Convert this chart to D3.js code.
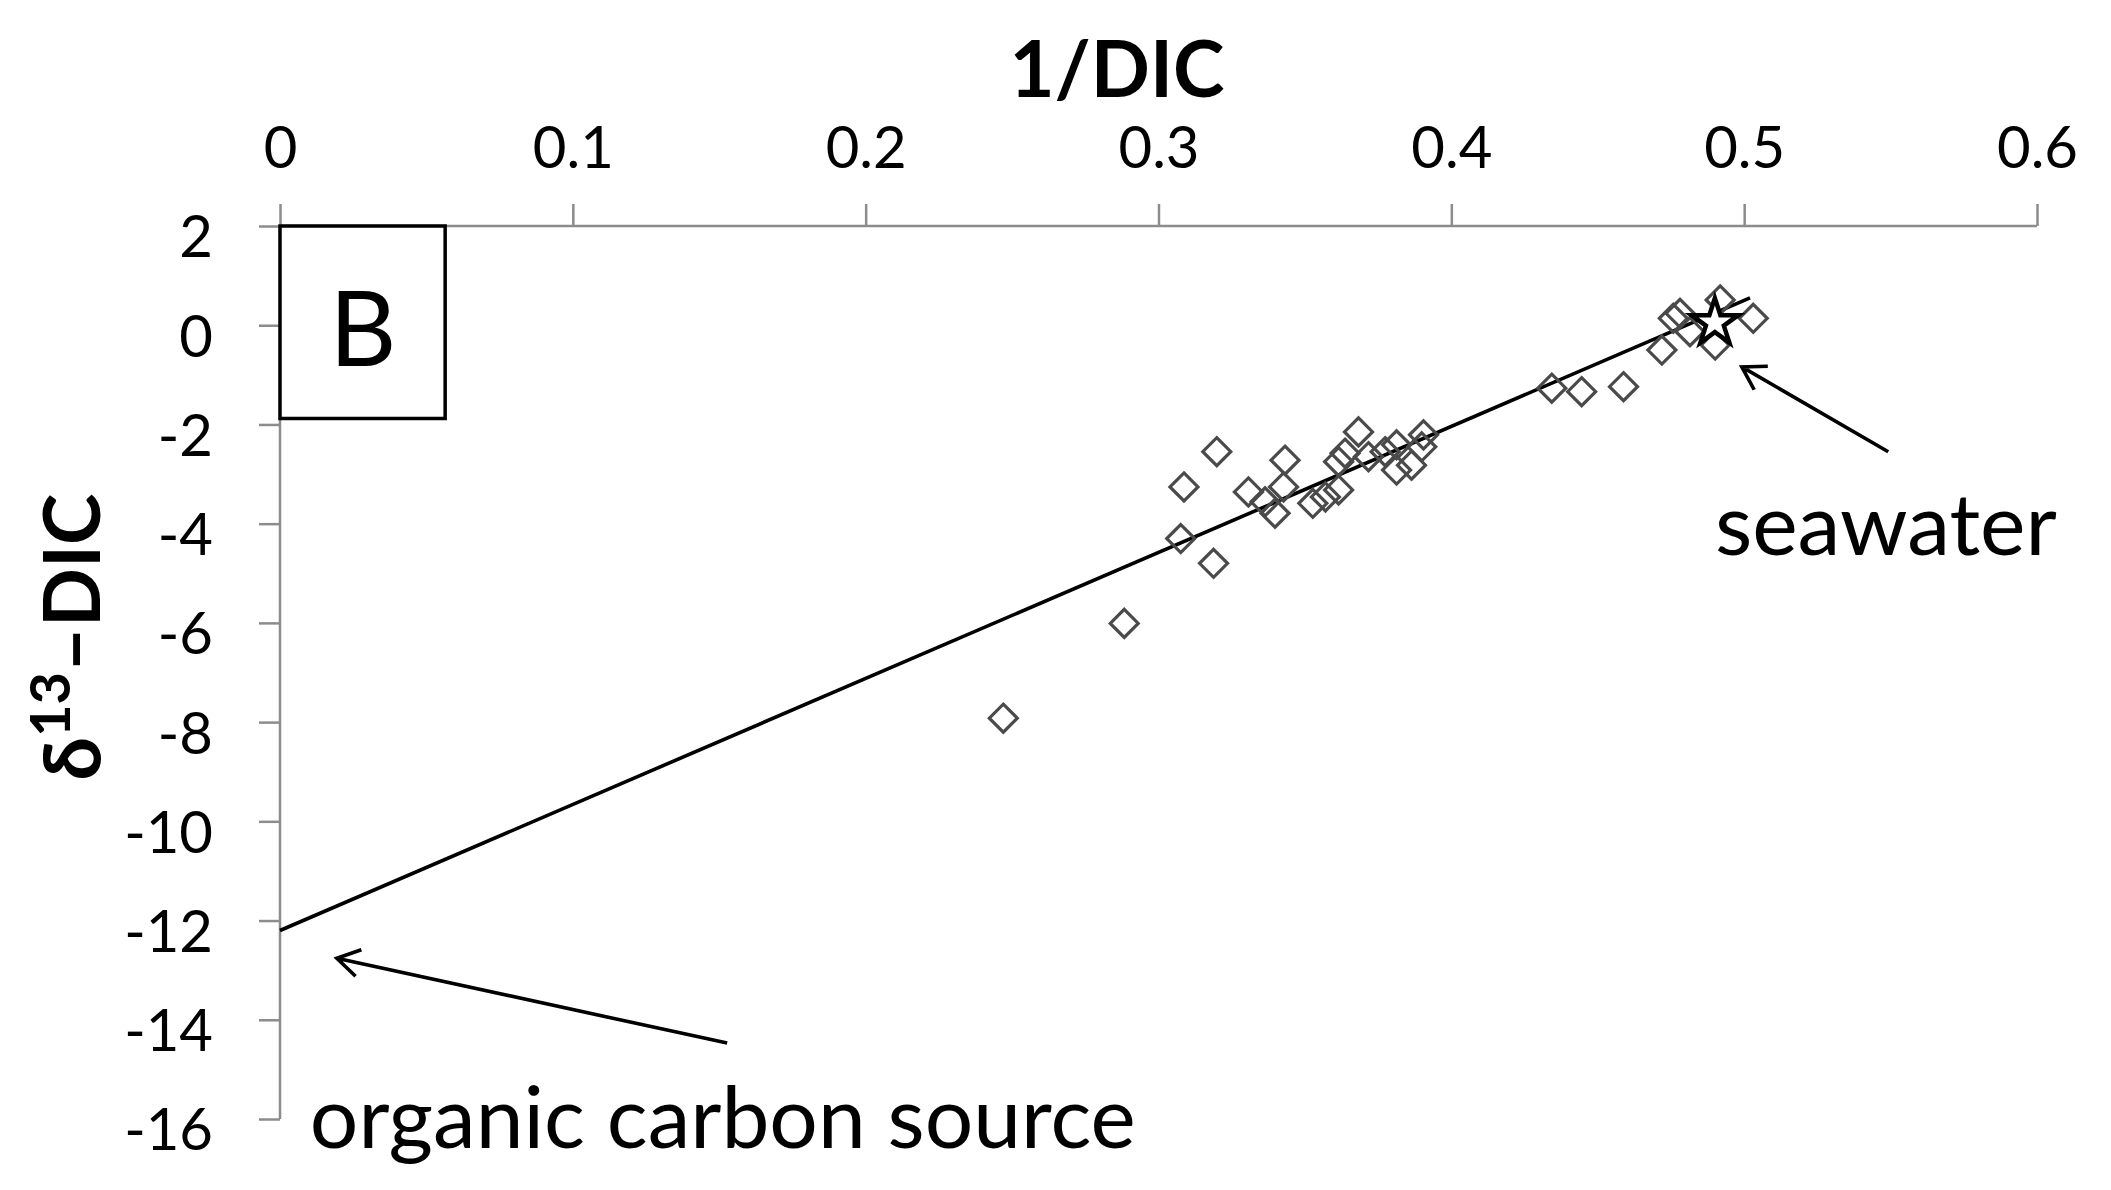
<!DOCTYPE html>
<html><head><meta charset="utf-8">
<script src="https://cdn.jsdelivr.net/npm/d3@7"></script>
<style>html,body{margin:0;padding:0;background:#fff;}svg{display:block;}</style>
</head><body>
<svg id="chart" width="2111" height="1190"></svg>
<script>
// ---- data ----
const xTicks = [0, 0.1, 0.2, 0.3, 0.4, 0.5, 0.6];
const xTickLabels = ["0", "0.1", "0.2", "0.3", "0.4", "0.5", "0.6"];
const yTicks = [2, 0, -2, -4, -6, -8, -10, -12, -14, -16];
const yTickLabels = ["2", "0", "-2", "-4", "-6", "-8", "-10", "-12", "-14", "-16"];
const invDIC = [0.2470, 0.2883, 0.3076, 0.3087, 0.3188, 0.3199, 0.3307, 0.3364, 0.3398, 0.3427,
                0.3432, 0.3527, 0.3570, 0.3615, 0.3615, 0.3637, 0.3683, 0.3717, 0.3774, 0.3813,
                0.3813, 0.3864, 0.3899, 0.3905, 0.4343, 0.4445, 0.4588, 0.4719, 0.4758, 0.4781,
                0.4815, 0.4901, 0.4918, 0.5031];
const d13DIC = [-7.92, -6.01, -4.30, -3.26, -4.80, -2.55, -3.36, -3.56, -3.79, -3.26,
                -2.72, -3.59, -3.46, -3.32, -2.75, -2.58, -2.15, -2.65, -2.55, -2.41,
                -2.92, -2.82, -2.45, -2.21, -1.27, -1.34, -1.24, -0.50, 0.14, 0.24,
                -0.13, -0.40, 0.51, 0.14];
const seawater = [0.490, 0.05];
const fitIntercept = -12.2;
const fitSlope = 25.4;
const fitRange = [0, 0.502];

const svg = d3.select("#chart");
const FONT = "Lato, 'Open Sans', sans-serif";
const x = d3.scaleLinear().domain([0, 0.6]).range([280, 2037]);
const y = d3.scaleLinear().domain([-16, 2]).range([1119, 226]);

function fitWidth(sel, target) {
  const w = sel.node().getComputedTextLength();
  const fs = parseFloat(sel.attr("font-size"));
  sel.attr("font-size", fs * target / w);
}

// x axis (top)
const xAxis = svg.append("g").attr("transform", `translate(0,${y(2)})`)
  .call(d3.axisTop(x).tickValues(xTicks).tickSize(22).tickPadding(36)
        .tickFormat((d, i) => xTickLabels[i]));
xAxis.selectAll("path,line").attr("stroke", "#8c8c8c").attr("stroke-width", 2.5);
xAxis.select(".domain").attr("d", `M${x(0)},0H${x(0.6)}`);
xAxis.selectAll("text").attr("font-family", FONT).attr("font-size", 58).attr("fill", "#000");

// y axis (left)
const yAxis = svg.append("g").attr("transform", `translate(${x(0)},0)`)
  .call(d3.axisLeft(y).tickValues(yTicks).tickSize(21).tickPadding(46)
        .tickFormat((d, i) => yTickLabels[i]));
yAxis.selectAll("path,line").attr("stroke", "#8c8c8c").attr("stroke-width", 2.5);
yAxis.select(".domain").attr("d", `M0,${y(2)}V${y(-16)}`);
yAxis.selectAll("text").attr("font-family", FONT).attr("font-size", 58).attr("fill", "#000")
  .attr("y", 10).attr("dy", "0.36em");

// axis titles
const xt = svg.append("text").attr("x", 1117).attr("y", 97).attr("text-anchor", "middle")
  .attr("font-family", FONT).attr("font-weight", "bold").attr("font-size", 84).text("1/DIC");
fitWidth(xt, 215);

const yt = svg.append("text").attr("transform", "translate(100,637) rotate(-90)")
  .attr("text-anchor", "middle").attr("font-family", FONT).attr("font-weight", "bold")
  .attr("font-size", 84);
yt.append("tspan").text("δ");
yt.append("tspan").attr("font-size", 56).attr("dy", -30).text("13");
yt.append("tspan").attr("dy", 30).text("–DIC");
fitWidth(yt, 282);

// B box
svg.append("rect").attr("x", x(0)).attr("y", y(2))
  .attr("width", x(0.0564) - x(0)).attr("height", y(-1.88) - y(2))
  .attr("fill", "#fff").attr("stroke", "#000").attr("stroke-width", 3.5);
svg.append("text").attr("x", x(0.0283)).attr("y", 366).attr("text-anchor", "middle")
  .attr("font-family", FONT).attr("font-size", 104).text("B");

// regression line
svg.append("path")
  .attr("d", d3.line()([fitRange[0], fitRange[1]].map(v => [x(v), y(fitIntercept + fitSlope * v)])))
  .attr("stroke", "#000").attr("stroke-width", 3.6).attr("fill", "none");

// diamonds
const pts = invDIC.map((v, i) => [v, d13DIC[i]]);
const dr = 14;
svg.append("g").selectAll("path").data(pts).join("path")
  .attr("d", d => `M${x(d[0])},${y(d[1]) - dr}l${dr},${dr}l${-dr},${dr}l${-dr},${-dr}Z`)
  .attr("fill", "none").attr("stroke", "#4a4a4a").attr("stroke-width", 3.2);

// seawater star
svg.append("path").attr("d", d3.symbol(d3.symbolStar).size(680)())
  .attr("transform", `translate(${x(seawater[0])},${y(seawater[1])})`)
  .attr("fill", "#fff").attr("stroke", "#000").attr("stroke-width", 4.5).attr("stroke-linejoin", "miter");

// annotations (arrows in data coords)
function arrow(tail, head) {
  const x1 = x(tail[0]), y1 = y(tail[1]), x2 = x(head[0]), y2 = y(head[1]);
  const a = Math.atan2(y1 - y2, x1 - x2), L = 26, s = 0.55;
  svg.append("path")
    .attr("d", `M${x1},${y1}L${x2},${y2}M${x2 + L * Math.cos(a + s)},${y2 + L * Math.sin(a + s)}L${x2},${y2}L${x2 + L * Math.cos(a - s)},${y2 + L * Math.sin(a - s)}`)
    .attr("stroke", "#000").attr("stroke-width", 3.6).attr("fill", "none");
}
arrow([0.5492, -2.55], [0.4992, -0.84]);
arrow([0.1527, -14.47], [0.0194, -12.76]);

const sw = svg.append("text").attr("x", x(0.490)).attr("y", y(-4.63))
  .attr("font-family", FONT).attr("font-size", 88).text("seawater");
fitWidth(sw, 342);
const oc = svg.append("text").attr("x", x(0.0102)).attr("y", y(-16.58))
  .attr("font-family", FONT).attr("font-size", 88).text("organic carbon source");
fitWidth(oc, 826);
</script>
</body></html>
